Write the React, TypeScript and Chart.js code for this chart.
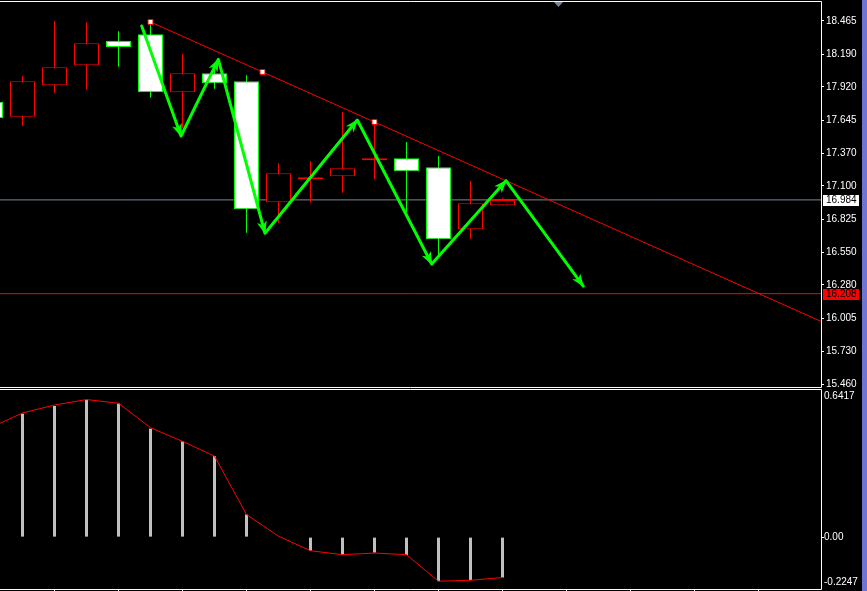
import React, { useEffect, useRef } from 'react';
import { Chart, registerables } from 'chart.js';

Chart.register(...registerables);

// ---------- candle data (bar index k, candle 0 = first fully visible) ----------
const candleIndex = [-1, 0, 1, 2, 3, 4, 5, 6, 7, 8, 9, 10, 11, 12, 13, 14, 15];
const openPrices = [17.797, 17.673, 17.933, 18.098, 18.302, 18.355, 17.875, 18.032, 17.966, 16.964, 17.155, 17.179, 17.312, 17.328, 17.254, 16.741, 16.939];
const highPrices = [17.850, 18.010, 18.465, 18.454, 18.380, 18.455, 18.192, 18.060, 18.015, 17.287, 17.306, 17.712, 17.621, 17.463, 17.347, 17.140, 16.998];
const lowPrices = [17.600, 17.598, 17.871, 17.896, 18.087, 17.830, 17.579, 17.905, 16.713, 16.795, 16.961, 17.044, 17.155, 16.884, 16.511, 16.663, 16.939];
const closePrices = [17.660, 17.966, 18.082, 18.280, 18.250, 17.875, 18.032, 17.949, 16.906, 17.204, 17.171, 17.246, 17.328, 17.221, 16.658, 16.956, 16.984];

// price axis labels
const priceTicks = [18.465, 18.19, 17.92, 17.645, 17.37, 17.1, 16.825, 16.55, 16.28, 16.005, 15.73, 15.46];
const bidPrice = 16.984;
const levelPrice = 16.208;

// trend line anchors (two anchors + midpoint handle), extended as a ray
const trendX = [4, 7.5, 11];
const trendY = [18.457, 18.043, 17.629];

// green zig-zag arrows (vertices)
const zigX = [3.725, 4.953, 6.119, 7.578, 10.463, 12.788, 15.109, 17.525];
const zigY = [18.424, 17.513, 18.148, 16.708, 17.645, 16.453, 17.143, 16.271];

// chart shift marker
const shiftIndex = 16.73;

// ---------- MACD sub-window ----------
const macdIndex = [-1, 0, 1, 2, 3, 4, 5, 6, 7, 8, 9, 10, 11, 12, 13, 14, 15];
const macdHist = [0.474, 0.535, 0.568, 0.595, 0.579, 0.47, 0.415, 0.351, 0.098, 0.002, -0.059, -0.076, -0.067, -0.077, -0.191, -0.186, -0.175];
const macdSignal = [0.474, 0.538, 0.572, 0.596, 0.58, 0.474, 0.415, 0.351, 0.098, 0.004, -0.059, -0.076, -0.069, -0.076, -0.191, -0.187, -0.175];
const macdMax = 0.6417;
const macdMin = -0.2247;
const macdTicks = [0];
const timeTicks = [0, 2, 4, 6, 8, 10, 12, 14, 16, 18, 20, 22, 24];

// ---------- view ----------
const X_MIN = -0.703125;
const X_MAX = 24.953125;
const Y_MAX = 18.63056;
const Y_MIN = 15.4352;

const FONT = "'Liberation Sans', Arial, sans-serif";

const isBull = (i: number) => closePrices[i] >= openPrices[i];

const mainDecor = {
  id: 'mainDecor',
  afterDatasetsDraw(chart: any) {
    const ctx = chart.ctx;
    const meta = chart.getDatasetMeta(0);
    ctx.save();
    ctx.fillStyle = '#00ff00';
    for (let j = 1; j < meta.data.length; j++) {
      const p = meta.data[j];
      const q = meta.data[j - 1];
      const a = Math.atan2(p.y - q.y, p.x - q.x);
      const c = Math.cos(a), s = Math.sin(a);
      const L = 12, W = 5;
      ctx.beginPath();
      ctx.moveTo(p.x + c * 1, p.y + s * 1);
      ctx.lineTo(p.x - L * c + W * s, p.y - L * s - W * c);
      ctx.lineTo(p.x - L * c * 0.7, p.y - L * s * 0.7);
      ctx.lineTo(p.x - L * c - W * s, p.y - L * s + W * c);
      ctx.closePath();
      ctx.fill();
    }
    ctx.restore();
  },
  afterDraw(chart: any) {
    const { ctx, chartArea } = chart;
    const { top, right, bottom } = chartArea;
    const xs = chart.scales.x;
    const ys = chart.scales.y;
    ctx.save();
    ctx.strokeStyle = '#ffffff';
    ctx.lineWidth = 1;
    ctx.beginPath();
    ctx.moveTo(0, top + 0.5);
    ctx.lineTo(right + 0.5, top + 0.5);
    ctx.lineTo(right + 0.5, bottom + 0.5);
    ctx.lineTo(0, bottom + 0.5);
    ctx.stroke();

    const tag = (v: number, bg: string, fg: string) => {
      const yp = Math.round(ys.getPixelForValue(v));
      ctx.fillStyle = bg;
      ctx.fillRect(right + 2, yp - 5, 36, 11);
      ctx.fillStyle = fg;
      ctx.font = `10px ${FONT}`;
      ctx.textBaseline = 'middle';
      ctx.textAlign = 'left';
      ctx.fillText(v.toFixed(3), right + 5, yp + 0.5);
    };
    tag(bidPrice, '#ffffff', '#000000');
    tag(levelPrice, '#ff0000', '#000000');

    const cx = Math.round(xs.getPixelForValue(shiftIndex)) + 0.5;
    ctx.fillStyle = '#778899';
    ctx.beginPath();
    ctx.moveTo(cx - 4.5, top + 1);
    ctx.lineTo(cx + 4.5, top + 1);
    ctx.lineTo(cx, top + 6);
    ctx.closePath();
    ctx.fill();
    ctx.restore();
  },
};

const lowerDecor = {
  id: 'lowerDecor',
  afterDraw(chart: any) {
    const { ctx, chartArea } = chart;
    const { top, right, bottom } = chartArea;
    ctx.save();
    ctx.strokeStyle = '#ffffff';
    ctx.lineWidth = 1;
    ctx.beginPath();
    ctx.moveTo(0, top + 0.5);
    ctx.lineTo(right + 0.5, top + 0.5);
    ctx.lineTo(right + 0.5, bottom + 0.5);
    ctx.lineTo(0, bottom + 0.5);
    ctx.stroke();
    ctx.fillStyle = '#ffffff';
    ctx.font = `10px ${FONT}`;
    ctx.textAlign = 'left';
    ctx.textBaseline = 'middle';
    ctx.fillText(macdMax.toFixed(4), right + 3, top + 7);
    ctx.fillText(macdMin.toFixed(4), right + 3, bottom - 6.5);
    ctx.restore();
  },
};

export default function App() {
  const mainRef = useRef<HTMLCanvasElement>(null);
  const lowRef = useRef<HTMLCanvasElement>(null);

  useEffect(() => {
    Chart.defaults.font.family = FONT;
    Chart.defaults.font.size = 10;

    const slope = (trendY[2] - trendY[0]) / (trendX[2] - trendX[0]);
    const trendPts = trendX.map((x, i) => ({ x, y: trendY[i] }));
    trendPts.push({ x: X_MAX, y: trendY[0] + slope * (X_MAX - trendX[0]) });

    const main = new Chart(mainRef.current as HTMLCanvasElement, {
      type: 'bar',
      data: {
        datasets: [
          {
            type: 'line',
            label: 'zigzag',
            data: zigX.map((x, i) => ({ x, y: zigY[i] })),
            borderColor: '#00ff00',
            borderWidth: 3,
            borderJoinStyle: 'round',
            borderCapStyle: 'round',
            pointRadius: 0,
            order: 0,
          } as any,
          {
            type: 'line',
            label: 'trend',
            data: trendPts,
            borderColor: '#ff0000',
            borderWidth: 1,
            pointStyle: 'rect',
            pointRadius: [3.5, 3.5, 3.5, 0],
            pointBackgroundColor: '#ffffff',
            pointBorderColor: '#ff0000',
            pointBorderWidth: 1,
            order: 1,
          } as any,
          {
            type: 'bar',
            label: 'bodies',
            data: candleIndex.map((x, i) => ({ x, y: [openPrices[i], closePrices[i]] })),
            backgroundColor: (c: any) => (isBull(c.dataIndex) ? '#000000' : '#ffffff'),
            borderColor: (c: any) => (isBull(c.dataIndex) ? '#ff0000' : '#00ff00'),
            borderWidth: 1,
            borderSkipped: false,
            barThickness: 25,
            grouped: false,
            inflateAmount: 0,
            order: 2,
          } as any,
          {
            type: 'bar',
            label: 'wicks',
            data: candleIndex.map((x, i) => ({ x, y: [lowPrices[i], highPrices[i]] })),
            backgroundColor: (c: any) => (isBull(c.dataIndex) ? '#ff0000' : '#00ff00'),
            borderWidth: 0,
            barThickness: 1,
            grouped: false,
            inflateAmount: 0,
            order: 3,
          } as any,
          {
            type: 'line',
            label: 'bid',
            data: [{ x: X_MIN, y: bidPrice }, { x: X_MAX, y: bidPrice }],
            borderColor: '#778899',
            borderWidth: 1,
            pointRadius: 0,
            order: 4,
          } as any,
          {
            type: 'line',
            label: 'level',
            data: [{ x: X_MIN, y: levelPrice }, { x: X_MAX, y: levelPrice }],
            borderColor: '#ff0000',
            borderWidth: 1,
            pointRadius: 0,
            order: 4,
          } as any,
        ],
      },
      options: {
        animation: false,
        responsive: false,
        devicePixelRatio: 1,
        events: [],
        layout: { autoPadding: false, padding: { top: 1, bottom: 1, left: 0, right: 0 } },
        plugins: { legend: { display: false }, tooltip: { enabled: false } },
        scales: {
          x: { type: 'linear', min: X_MIN, max: X_MAX, offset: false, display: false },
          y: {
            type: 'linear',
            position: 'right',
            min: Y_MIN,
            max: Y_MAX,
            afterBuildTicks: (s: any) => {
              s.ticks = priceTicks.map((v) => ({ value: v }));
            },
            afterFit: (s: any) => {
              s.width = 46;
              s.paddingTop = 0;
              s.paddingBottom = 0;
            },
            grid: { drawOnChartArea: false, drawTicks: true, tickLength: 3, color: '#ffffff' },
            border: { display: false },
            ticks: {
              color: '#ffffff',
              font: { family: FONT, size: 10 },
              padding: 2,
              crossAlign: 'near',
              autoSkip: false,
              callback: (v: any) => Number(v).toFixed(3),
            },
          },
        },
      } as any,
      plugins: [mainDecor],
    });

    const lower = new Chart(lowRef.current as HTMLCanvasElement, {
      type: 'bar',
      data: {
        datasets: [
          {
            type: 'line',
            label: 'signal',
            data: macdIndex.map((x, i) => ({ x, y: macdSignal[i] })),
            borderColor: '#ff0000',
            borderWidth: 1,
            pointRadius: 0,
            order: 0,
          } as any,
          {
            type: 'bar',
            label: 'macd',
            data: macdIndex.map((x, i) => ({ x, y: macdHist[i] })),
            backgroundColor: '#c0c0c0',
            borderWidth: 0,
            barThickness: 3,
            grouped: false,
            inflateAmount: 0,
            order: 1,
          } as any,
        ],
      },
      options: {
        animation: false,
        responsive: false,
        devicePixelRatio: 1,
        events: [],
        layout: { autoPadding: false, padding: { top: 1, bottom: 0, left: 0, right: 0 } },
        plugins: { legend: { display: false }, tooltip: { enabled: false } },
        scales: {
          x: {
            type: 'linear',
            min: X_MIN,
            max: X_MAX,
            offset: false,
            position: 'bottom',
            afterBuildTicks: (s: any) => {
              s.ticks = timeTicks.map((v) => ({ value: v }));
            },
            afterFit: (s: any) => {
              s.height = 2;
              s.paddingLeft = 0;
              s.paddingRight = 0;
            },
            grid: { drawOnChartArea: false, drawTicks: true, tickLength: 3, color: '#ffffff' },
            border: { display: false },
            ticks: { display: false },
          },
          y: {
            type: 'linear',
            position: 'right',
            min: macdMin,
            max: macdMax,
            afterBuildTicks: (s: any) => {
              s.ticks = macdTicks.map((v) => ({ value: v }));
            },
            afterFit: (s: any) => {
              s.width = 46;
              s.paddingTop = 0;
              s.paddingBottom = 0;
            },
            grid: { drawOnChartArea: false, drawTicks: true, tickLength: 3, color: '#ffffff' },
            border: { display: false },
            ticks: {
              color: '#ffffff',
              font: { family: FONT, size: 10 },
              padding: 0,
              crossAlign: 'near',
              callback: (v: any) => Number(v).toFixed(2),
            },
          },
        },
      } as any,
      plugins: [lowerDecor],
    });

    return () => {
      main.destroy();
      lower.destroy();
    };
  }, []);

  return (
    <div style={{ position: 'fixed', left: 0, top: 0, width: 867, height: 591, background: '#000000', overflow: 'hidden' }}>
      <div style={{ position: 'absolute', left: 862, top: 0, width: 5, height: 591, background: '#6f74d0' }} />
      <canvas ref={mainRef} width={867} height={388} style={{ position: 'absolute', left: 0, top: 0 }} />
      <canvas ref={lowRef} width={867} height={203} style={{ position: 'absolute', left: 0, top: 388 }} />
    </div>
  );
}
